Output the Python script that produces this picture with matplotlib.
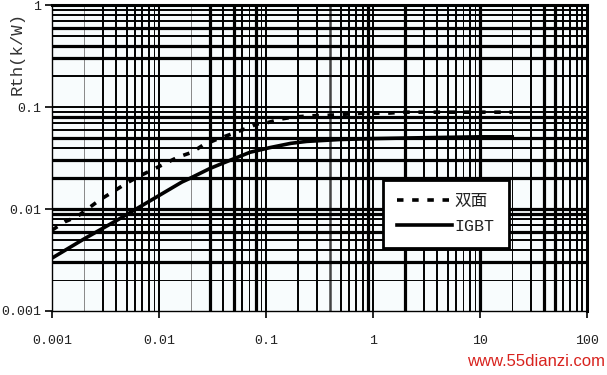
import numpy as np
import matplotlib
matplotlib.use("Agg")
import matplotlib.pyplot as plt

# ---------------- data ----------------
t_igbt = [0.001, 0.002, 0.004, 0.008, 0.0164, 0.0195, 0.030, 0.046, 0.071,
          0.109, 0.17, 0.24, 0.49, 1.0, 3.0, 10.0, 20.0]
z_igbt = [0.0033, 0.0051, 0.0077, 0.0118, 0.0184, 0.020, 0.025, 0.030, 0.036,
          0.040, 0.044, 0.046, 0.048, 0.049, 0.050, 0.051, 0.051]

t_double = [0.001, 0.00132, 0.00171, 0.0022, 0.0028, 0.0037, 0.0050, 0.0066,
            0.0086, 0.0116, 0.0151, 0.0204, 0.0258, 0.0355, 0.054, 0.071,
            0.082, 0.102, 0.135, 0.186, 0.27, 0.40, 0.55, 0.81, 1.38, 1.9,
            3.6, 7.7, 20.0]
z_double = [0.0062, 0.0075, 0.0084, 0.0102, 0.0123, 0.0147, 0.018, 0.0211,
            0.0241, 0.0282, 0.0323, 0.036, 0.0423, 0.0487, 0.057, 0.064,
            0.068, 0.070, 0.076, 0.080, 0.082, 0.083, 0.085, 0.087, 0.087,
            0.089, 0.089, 0.089, 0.089]

x_ticks = [0.001, 0.01, 0.1, 1, 10, 100]
x_labels = ["0.001", "0.01", "0.1", "1", "10", "100"]
y_ticks = [0.001, 0.01, 0.1, 1]
y_labels = ["0.001", "0.01", "0.1", "1"]

series_names = ["双面", "IGBT"]
ylabel = "Rth(k/W)"
watermark = "www.55dianzi.com"

# ---------------- figure ----------------
W, H, DPI = 607, 375, 100
fig = plt.figure(figsize=(W / DPI, H / DPI), dpi=DPI, facecolor="white")
ax = fig.add_axes([52 / W, 1 - 311 / H, (587 - 52) / W, (311 - 5) / H])
ax.set_facecolor("#f8fcfd")
ax.set_xscale("log")
ax.set_yscale("log")
ax.set_xlim(0.001, 100)
ax.set_ylim(0.001, 1)

mono = ["Liberation Mono", "Noto Sans CJK SC"]

# grid line widths (styling)
thin, med, thick = 0.7, 1.4, 2.3
v_w = {0.002: (thin, "#888888"), 0.003: med, 0.004: med, 0.005: med, 0.006: med,
       0.007: med, 0.008: med, 0.009: thin, 0.01: med,
       0.02: (thin, "#888888"), 0.03: thick, 0.04: med, 0.05: thick, 0.06: med,
       0.07: thin, 0.08: thick, 0.09: thin, 0.1: med,
       0.2: med, 0.3: med, 0.4: (1.8, "#444444"), 0.5: med, 0.6: med, 0.7: med,
       0.8: med, 0.9: thick, 1: med,
       2: thick, 3: med, 4: med, 5: med, 6: med, 7: thin, 8: med, 9: thin, 10: thick,
       20: thin, 30: med, 40: thick, 50: thick, 60: med, 70: med, 80: med, 90: med}
h_w = {0.9: med, 0.8: med, 0.7: med, 0.6: thick, 0.5: med, 0.4: thick, 0.3: thick,
       0.2: med, 0.1: med,
       0.09: med, 0.08: thick, 0.07: med, 0.06: med, 0.05: thick, 0.04: med,
       0.03: thick, 0.02: thick, 0.01: thick,
       0.009: thick, 0.008: med, 0.007: med, 0.006: thick, 0.005: med, 0.004: med,
       0.003: thick, 0.002: thin}

for v, s in v_w.items():
    lw, c = (s if isinstance(s, tuple) else (s, "black"))
    ax.axvline(v, color=c, lw=lw, zorder=1)
for v, s in h_w.items():
    lw, c = (s if isinstance(s, tuple) else (s, "black"))
    ax.axhline(v, color=c, lw=lw, zorder=1)

# curves
ax.plot(t_double, z_double, color="black", lw=2.6, linestyle=(0, (1.8, 2.4)),
        label=series_names[0], zorder=3)
ax.plot(t_igbt, z_igbt, color="black", lw=2.6, label=series_names[1], zorder=3)

# ticks
ax.set_xticks(x_ticks)
ax.set_xticklabels(x_labels, fontfamily=mono, fontsize=9.5)
ax.set_yticks(y_ticks)
ax.set_yticklabels(y_labels, fontfamily=mono, fontsize=9.5)
ax.minorticks_off()
ax.tick_params(axis="both", which="major", direction="out", length=5, width=1.2,
               color="black", labelcolor="#222222")
ax.tick_params(axis="x", pad=12)
ax.tick_params(axis="y", pad=3)

for side in ["left", "bottom"]:
    ax.spines[side].set_linewidth(1.0)
for side in ["top", "right"]:
    ax.spines[side].set_linewidth(2.2)

ax.set_ylabel(ylabel, fontfamily=mono, fontsize=12.5, color="#333333")
ax.yaxis.set_label_coords(-0.052, 0.84)

leg = ax.legend(loc="upper left", bbox_to_anchor=(383 / W, 1 - 180 / H),
                bbox_transform=fig.transFigure, prop={"family": mono, "size": 12},
                frameon=True, fancybox=False, framealpha=1, edgecolor="black",
                handlelength=3.3, handletextpad=0.15, borderpad=0.85,
                labelspacing=0.6, borderaxespad=0)
leg.get_frame().set_linewidth(2.0)
for t in leg.get_texts():
    t.set_color("#222222")
leg.set_zorder(5)

fig.text(536 / W, 1 - 361 / H, watermark, color="#d8231e", fontsize=12,
         family="Liberation Sans", ha="center", va="center")

fig.savefig("out.png", dpi=DPI, facecolor="white")
